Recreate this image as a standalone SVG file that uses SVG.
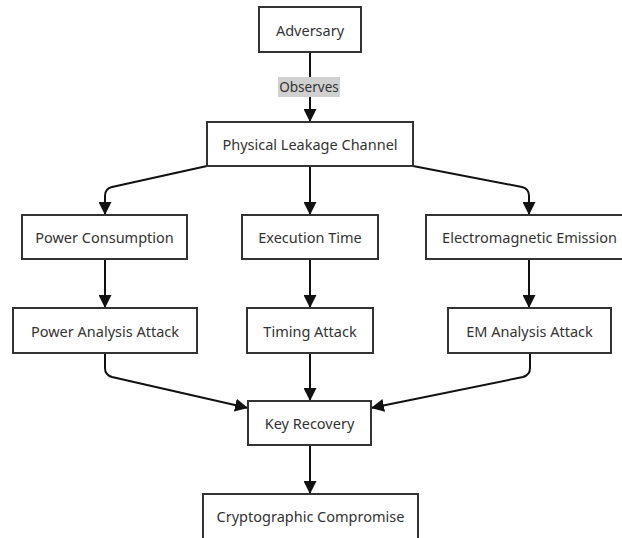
<svg xmlns="http://www.w3.org/2000/svg" width="622" height="538" viewBox="0 0 622 538">
<defs>
<marker id="ah" viewBox="0 0 10 10" refX="10" refY="5" markerWidth="13" markerHeight="13" markerUnits="userSpaceOnUse" orient="auto">
<path d="M0,0 L10,5 L0,10 z" fill="#111"/>
</marker>
<style>
.box{fill:#fff;stroke:#333;stroke-width:2}
.lbl{font-family:"Noto Sans","Open Sans",sans-serif;font-size:14.5px;fill:#333;text-anchor:middle;dominant-baseline:central}
.edge{fill:none;stroke:#111;stroke-width:2;marker-end:url(#ah)}
</style>
</defs>
<rect width="622" height="538" fill="#fff"/>
<g id="connectors">
<path class="edge" d="M310,52 L310,122"/>
<path class="edge" d="M207,166 L112,187 Q105,188.5 105,196 L105,215"/>
<path class="edge" d="M310,166 L310,215"/>
<path class="edge" d="M413,166 L522,187 Q529,188.5 529,196 L529,215"/>
<path class="edge" d="M105,259 L105,308"/>
<path class="edge" d="M310,259 L310,308"/>
<path class="edge" d="M529,259 L529,308"/>
<path class="edge" d="M105,353 L105,368 Q105,375 112,377 L248,408"/>
<path class="edge" d="M310,353 L310,401"/>
<path class="edge" d="M530,353 L530,368 Q530,375 523,377 L371,408"/>
<path class="edge" d="M310,445 L310,494"/>
<g id="edge-label-observes">
<rect x="278" y="77" width="62" height="20" fill="#d0d0d0"/>
<text class="lbl" x="309" y="87" style="font-size:13.5px">Observes</text>
</g>
</g>
<g id="adversary"><rect class="box" x="259" y="7" width="102" height="45"/><text class="lbl" x="310" y="30">Adversary</text></g>
<g id="plc"><rect class="box" x="207" y="122" width="206" height="44"/><text class="lbl" x="310" y="144">Physical Leakage Channel</text></g>
<g id="power"><rect class="box" x="22" y="215" width="165" height="44"/><text class="lbl" x="104.5" y="237">Power Consumption</text></g>
<g id="exec"><rect class="box" x="242" y="215" width="136" height="44"/><text class="lbl" x="310" y="237">Execution Time</text></g>
<g id="em"><rect class="box" x="426" y="215" width="207" height="44"/><text class="lbl" x="529.5" y="237">Electromagnetic Emission</text></g>
<g id="paa"><rect class="box" x="13" y="308" width="184" height="45"/><text class="lbl" x="105" y="330.5">Power Analysis Attack</text></g>
<g id="timing"><rect class="box" x="247" y="308" width="126" height="45"/><text class="lbl" x="310" y="330.5">Timing Attack</text></g>
<g id="ema"><rect class="box" x="448" y="308" width="163" height="45"/><text class="lbl" x="529.5" y="330.5">EM Analysis Attack</text></g>
<g id="key"><rect class="box" x="248" y="401" width="123" height="44"/><text class="lbl" x="309.5" y="423">Key Recovery</text></g>
<g id="crypto"><rect class="box" x="203" y="494" width="215" height="50"/><text class="lbl" x="310.5" y="516">Cryptographic Compromise</text></g>
</svg>
